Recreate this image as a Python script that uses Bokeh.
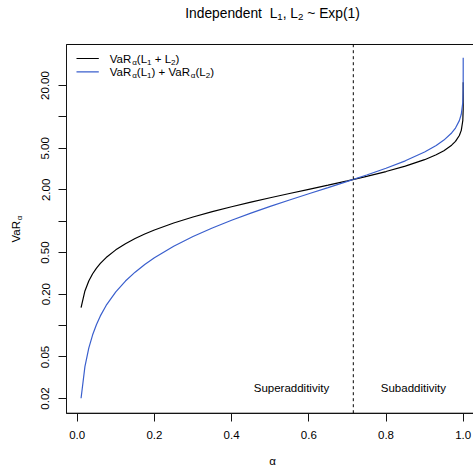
import math
from bokeh.plotting import figure
from bokeh.models import Range1d, FixedTicker, PrintfTickFormatter, Label, Arrow
from bokeh.embed import file_html
from bokeh.resources import INLINE

# ---------------- data ----------------
alpha = [0.01, 0.02, 0.03, 0.04, 0.05, 0.06, 0.075, 0.1, 0.125, 0.15, 0.175, 0.2,
         0.25, 0.3, 0.35, 0.4, 0.45, 0.5, 0.55, 0.6, 0.65, 0.7, 0.75, 0.8,
         0.85, 0.9, 0.93, 0.95, 0.97, 0.98, 0.99, 0.995, 0.999,
         0.9999, 0.99999, 0.999999, 0.9999999, 0.99999999]
# VaR_alpha(L1 + L2)
var_sum = [0.1486, 0.2148, 0.2673, 0.3137, 0.3554, 0.3941, 0.4485, 0.5318, 0.6094, 0.6832,
           0.7547, 0.8244, 0.9613, 1.0973, 1.2352, 1.3765, 1.5235, 1.6783, 1.8435, 2.0223,
           2.2188, 2.4392, 2.6927, 2.9943, 3.3724, 3.8897, 4.3332, 4.7439, 5.3559, 5.8339,
           6.6384, 7.4301, 9.2335, 11.7564, 14.2365, 16.6884, 19.1198, 21.536]
# VaR_alpha(L1) + VaR_alpha(L2)
var_add = [0.0201, 0.0404, 0.0609, 0.0816, 0.1026, 0.1238, 0.1559, 0.2107, 0.2671, 0.3250,
           0.3847, 0.4463, 0.5754, 0.7133, 0.8616, 1.0217, 1.1957, 1.3863, 1.5970, 1.8326,
           2.0996, 2.4079, 2.7726, 3.2189, 3.7942, 4.6052, 5.3185, 5.9915, 7.0131, 7.8240,
           9.2103, 10.5966, 13.8155, 18.4207, 23.0259, 27.6310, 32.2362, 36.8414]
alpha_cross = 0.7153
x_ticks = [0.0, 0.2, 0.4, 0.6, 0.8, 1.0]
y_ticks_labeled = [0.02, 0.05, 0.2, 0.5, 2, 5, 20]
y_ticks_unlabeled = [0.1, 1, 10]
region_labels = ["Superadditivity", "Subadditivity"]
region_x = [0.555, 0.871]

# ---------------- geometry ----------------
FONT = "Liberation Sans"
BLUE = "#3A5FCD"
AXC = "#141414"      # axis line / major ticks
MINC = "#121212"     # minor ticks
BOXC = "#0a0a0a"     # plot box
W, H = 473, 467
X_LO, X_HI = -0.19870, 1.02668
Y_LO, Y_HI = 0.0043636, 130.5
BOX_L, BOX_R, BOX_B, BOX_T = -0.0277, 1.0396, 0.01446, 49.43
BASE = 11.5
MID = 0.3465   # em-box middle above the baseline

def sx(X):
    return X

def sy(Y):
    return H - Y

p = figure(width=W, height=H, y_axis_type="log",
           x_range=Range1d(X_LO, X_HI), y_range=Range1d(Y_LO, Y_HI),
           output_backend="svg", toolbar_location=None,
           min_border=0, min_border_left=0, min_border_right=0,
           min_border_top=0, min_border_bottom=0)
p.title.visible = False
p.grid.visible = False
p.outline_line_color = None
p.background_fill_color = "white"
p.border_fill_color = "white"

# plot box (polyline through the box corners)
p.line(x=[BOX_R, BOX_L, BOX_L, BOX_R], y=[BOX_T, BOX_T, BOX_B, BOX_B],
       line_color=BOXC, line_width=1)

xa = p.xaxis[0]
ya = p.yaxis[0]
xa.fixed_location = BOX_B
ya.fixed_location = BOX_L
xa.bounds = (BOX_L, BOX_R)
ya.bounds = (BOX_B, BOX_T)
for ax in (xa, ya):
    ax.axis_line_color = AXC
    ax.axis_line_width = 1
    ax.major_tick_line_color = AXC
    ax.major_tick_line_width = 1
    ax.major_tick_in = 0
    ax.major_tick_out = 8
    ax.major_label_text_font = FONT
    ax.major_label_text_font_size = f"{BASE}px"
    ax.major_label_text_color = "#000000"

xa.ticker = FixedTicker(ticks=x_ticks, minor_ticks=[])
xa.formatter = PrintfTickFormatter(format="%.1f")
xa.minor_tick_line_color = None
xa.major_label_standoff = 10

ya.ticker = FixedTicker(ticks=y_ticks_labeled, minor_ticks=y_ticks_unlabeled)
ya.formatter = PrintfTickFormatter(format="%.2f")
ya.minor_tick_line_color = MINC
ya.minor_tick_line_width = 1
ya.minor_tick_in = 0
ya.minor_tick_out = 8
ya.major_label_orientation = "vertical"
ya.major_label_standoff = 9

p.line(alpha, var_sum, line_color="black", line_width=1.2)
p.line(alpha, var_add, line_color=BLUE, line_width=1.2)

p.segment(x0=[alpha_cross], y0=[BOX_B], x1=[alpha_cross], y1=[BOX_T],
          line_color="black", line_width=1, line_dash="3 3")

WID = {'I': 278, 'n': 556, 'd': 556, 'e': 556, 'p': 556, 't': 278, ' ': 278, 'L': 556,
       '1': 556, '2': 556, ',': 278, '~': 584, 'E': 667, 'x': 500, '(': 333, ')': 333,
       'V': 667, 'a': 556, 'R': 722, 'α': 578, '+': 584}

def tw(s, size):
    return sum(WID.get(c, 556) for c in s) / 1000.0 * size

def add_text(t, X, Ybase, fs, rotate=False, align="left"):
    # place text so that its baseline lies at the given page position
    if rotate:
        lab = Label(x=sx(X - MID * fs), y=sy(Ybase), angle=math.pi / 2)
    else:
        lab = Label(x=sx(X), y=sy(Ybase - MID * fs))
    lab.x_units = "screen"
    lab.y_units = "screen"
    lab.text = t
    lab.text_font = FONT
    lab.text_font_size = f"{fs:.2f}px"
    lab.text_align = align
    lab.text_baseline = "middle"
    lab.text_color = "black"
    p.add_layout(lab)

def rich(pieces, x0, y0, size, center=False, rotate=False):
    total = sum(g * size + tw(t, size * sc) for t, sc, dy, g in pieces)
    pos = -total / 2 if center else 0.0
    for t, sc, dy, g in pieces:
        pos += g * size
        fs = size * sc
        if rotate:
            add_text(t, x0 + dy, y0 - pos, fs, rotate=True)
        else:
            add_text(t, x0 + pos, y0 + dy, fs)
        pos += tw(t, fs)

# region labels (baseline near the bottom of the box)
for t, xv in zip(region_labels, region_x):
    add_text(t, 76.7 + 386 * xv, 391, BASE, align="center")

SUB = 0.7
TS = BASE * 1.2
rich([("Independent", 1, 0, 0), ("L", 1, 0, 0.556), ("1", SUB, 2.5, 0), (",", 1, 0, 0),
      ("L", 1, 0, 0.278), ("2", SUB, 2.5, 0), ("~", 1, 0, 0.278), ("Exp(1)", 1, 0, 0.278)],
     272, 17.5, TS, center=True)

row1 = [("VaR", 1, 0, 0), ("α", SUB, 2, 0), ("(L", 1, 0, 0), ("1", SUB, 2, 0),
        ("+", 1, 0, 0.278), ("L", 1, 0, 0.278), ("2", SUB, 2, 0), (")", 1, 0, 0)]
row2 = [("VaR", 1, 0, 0), ("α", SUB, 2, 0), ("(L", 1, 0, 0), ("1", SUB, 2, 0), (")", 1, 0, 0),
        ("+", 1, 0, 0.278), ("VaR", 1, 0, 0.278), ("α", SUB, 2, 0), ("(L", 1, 0, 0),
        ("2", SUB, 2, 0), (")", 1, 0, 0)]
rich(row1, 109.3, 62.3, BASE)
rich(row2, 109.3, 75.7, BASE)
for Y, col in ((58.0, "black"), (71.3, BLUE)):
    p.add_layout(Arrow(end=None, x_start=sx(76), y_start=sy(Y), x_end=sx(98.3), y_end=sy(Y),
                       start_units="screen", end_units="screen",
                       line_color=col, line_width=1.2))

rich([("VaR", 1, 0, 0), ("α", SUB, 2, 0)], 19.3, 228.5, BASE, center=True, rotate=True)
rich([("α", 1, 0, 0)], 272, 464, BASE, center=True)

open("out.html", "w").write(file_html(p, INLINE))
